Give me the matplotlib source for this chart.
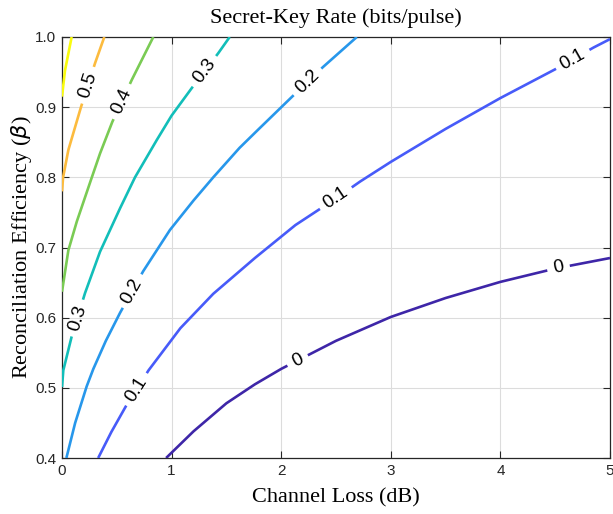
import numpy as np
import matplotlib
matplotlib.use("Agg")
import matplotlib.pyplot as plt
from matplotlib.textpath import TextPath
from matplotlib.font_manager import FontProperties

# ---- data: contour lines of secret-key rate ----
levels = ["0", "0.1", "0.2", "0.3", "0.4", "0.5", "0.6"]

lvl0_x = [0.95, 1.2, 1.5, 1.76, 2.0, 2.5, 3.0, 3.5, 4.0, 4.5, 5.0]
lvl0_y = [0.40, 0.438, 0.478, 0.505, 0.527, 0.567, 0.601, 0.628, 0.651, 0.670, 0.685]

lvl1_x = [0.33, 0.45, 0.58, 0.79, 1.08, 1.38, 1.76, 2.13, 2.5, 2.72, 3.0, 3.5, 4.0, 4.5, 4.85, 5.0]
lvl1_y = [0.40, 0.437, 0.473, 0.525, 0.585, 0.634, 0.685, 0.732, 0.77, 0.794, 0.822, 0.869, 0.913, 0.954, 0.985, 0.997]

lvl2_x = [0.04, 0.12, 0.225, 0.286, 0.40, 0.53, 0.74, 0.985, 1.2, 1.38, 1.62, 1.79, 2.1, 2.38, 2.69]
lvl2_y = [0.40, 0.45, 0.502, 0.527, 0.567, 0.607, 0.666, 0.725, 0.767, 0.80, 0.842, 0.868, 0.915, 0.957, 1.0]

lvl3_x = [0.0, 0.012, 0.088, 0.21, 0.347, 0.53, 0.666, 0.864, 1.0, 1.183, 1.426, 1.53]
lvl3_y = [0.501, 0.525, 0.573, 0.635, 0.694, 0.756, 0.800, 0.853, 0.888, 0.927, 0.977, 1.0]

lvl4_x = [0.0, 0.058, 0.135, 0.27, 0.347, 0.459, 0.637, 0.833]
lvl4_y = [0.637, 0.696, 0.737, 0.799, 0.834, 0.879, 0.939, 1.0]

lvl5_x = [0.0, 0.01, 0.058, 0.173, 0.3, 0.386]
lvl5_y = [0.78, 0.80, 0.839, 0.9, 0.962, 1.0]

lvl6_x = [0.0, 0.027, 0.088]
lvl6_y = [0.915, 0.952, 1.0]

# x positions of inline labels on each contour
label_x = [[2.15, 4.53], [0.68, 2.5, 4.66], [0.64, 2.24], [0.14, 1.3], [0.545], [0.237], []]

xticks = [0, 1, 2, 3, 4, 5]
yticks = [0.4, 0.5, 0.6, 0.7, 0.8, 0.9, 1.0]

colors = [(0.2422, 0.1504, 0.6603), (0.2783, 0.3556, 0.9777), (0.1540, 0.5902, 0.9218),
          (0.0704, 0.7458, 0.7258), (0.4783, 0.7965, 0.3300), (0.9871, 0.7348, 0.2438),
          (0.9763, 0.9831, 0.0538)]

curves = [(lvl0_x, lvl0_y), (lvl1_x, lvl1_y), (lvl2_x, lvl2_y), (lvl3_x, lvl3_y),
          (lvl4_x, lvl4_y), (lvl5_x, lvl5_y), (lvl6_x, lvl6_y)]

DPI = 100
fig = plt.figure(figsize=(6.13, 5.14), dpi=DPI)
ax = fig.add_axes([62 / 613, 1 - 458 / 514, 548 / 613, 421 / 514])
ax.set_xlim(0, 5)
ax.set_ylim(0.4, 1.0)
fig.canvas.draw()

lab_fs = 13.5
lab_font = FontProperties(family="Liberation Sans", size=lab_fs)

for (cx, cy), col, lev, lxs in zip(curves, colors, levels, label_x):
    cx = np.asarray(cx, float)
    cy = np.asarray(cy, float)
    pts = ax.transData.transform(np.column_stack([cx, cy]))
    seg = np.hypot(np.diff(pts[:, 0]), np.diff(pts[:, 1]))
    s = np.concatenate([[0], np.cumsum(seg)])
    gaps = []
    tp = TextPath((0, 0), lev, prop=lab_font)
    tw = tp.get_extents().width * DPI / 72.0
    for lx in lxs:
        sc = np.interp(lx, cx, s)
        half = tw / 2 + 7
        gaps.append((sc - half, sc + half))
        px = np.interp(sc, s, pts[:, 0])
        py = np.interp(sc, s, pts[:, 1])
        p1 = (np.interp(sc - 6, s, pts[:, 0]), np.interp(sc - 6, s, pts[:, 1]))
        p2 = (np.interp(sc + 6, s, pts[:, 0]), np.interp(sc + 6, s, pts[:, 1]))
        ang = np.degrees(np.arctan2(p2[1] - p1[1], p2[0] - p1[0]))
        dx, dy = ax.transData.inverted().transform((px, py))
        ax.text(dx, dy, lev, rotation=ang, rotation_mode="anchor", ha="center", va="center",
                fontproperties=lab_font, color="black", zorder=4)
    bounds = [s[0]]
    for g0, g1 in sorted(gaps):
        bounds += [g0, g1]
    bounds.append(s[-1])
    for a, b in zip(bounds[0::2], bounds[1::2]):
        if b <= a:
            continue
        inner = s[(s > a) & (s < b)]
        ss = np.concatenate([[a], inner, [b]])
        xs = np.interp(ss, s, pts[:, 0])
        ys = np.interp(ss, s, pts[:, 1])
        d = ax.transData.inverted().transform(np.column_stack([xs, ys]))
        ax.plot(d[:, 0], d[:, 1], color=col, lw=1.9, solid_capstyle="butt",
                solid_joinstyle="round", zorder=3)

axc = (0.15, 0.15, 0.15)
ax.set_xticks(xticks)
ax.set_yticks(yticks)
ax.set_xticklabels([str(v) for v in xticks])
ax.set_yticklabels(["%.1f" % v for v in yticks])
ax.tick_params(direction="in", top=True, right=True, length=5, width=0.8, colors=axc,
               labelsize=11, pad=4)
for lab in ax.get_xticklabels() + ax.get_yticklabels():
    lab.set_fontfamily("Liberation Sans")
for sp in ax.spines.values():
    sp.set_color(axc)
    sp.set_linewidth(0.9)
ax.grid(True, color="#dcdcdc", lw=0.8)
ax.set_axisbelow(True)

plt.rcParams["mathtext.fontset"] = "stix"
serif = "Liberation Serif"
ax.set_title("Secret-Key Rate (bits/pulse)", fontfamily=serif, fontsize=16, color="black", pad=10)
ax.set_xlabel("Channel Loss (dB)", fontfamily=serif, fontsize=16, color="black", labelpad=8)
ax.set_ylabel(r"Reconciliation Efficiency ($\beta$)", fontfamily=serif, fontsize=16,
              color="black", labelpad=1)

fig.savefig("out.png", dpi=DPI)
